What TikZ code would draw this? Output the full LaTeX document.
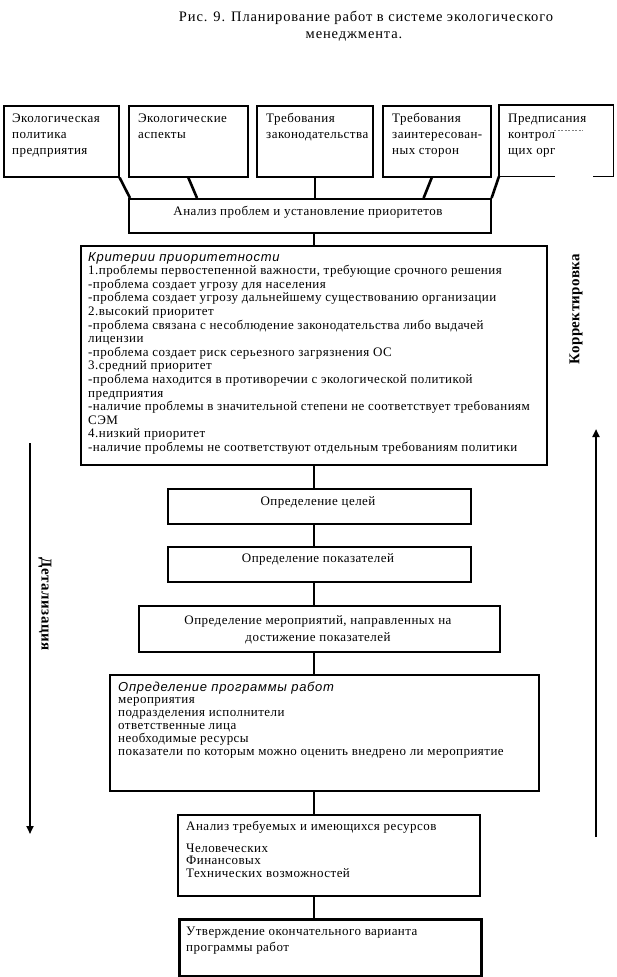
\documentclass[tikz,border=0pt]{standalone}
\usepackage{fontspec}
\setmainfont[LetterSpace=3.5]{Liberation Serif}
\newfontfamily\titlefont[LetterSpace=6]{Liberation Serif}
\newfontfamily\labelfont[LetterSpace=3]{Liberation Serif}
\newfontfamily\itsans[LetterSpace=5.5]{Liberation Sans}
\newcommand\hdfont{\itsans\itshape}
\usetikzlibrary{arrows.meta,calc}
\begin{document}
\begin{tikzpicture}[x=1pt,y=-1pt,
  box/.style={draw, line width=1.6pt, anchor=north west, inner sep=0pt},
  nobox/.style={anchor=north west, inner sep=0pt},
  txt/.style={anchor=base west, inner sep=0pt, align=left, font=\fontsize{13}{16}\selectfont},
  ctxt/.style={anchor=base, inner sep=0pt, align=center, font=\fontsize{13}{17}\selectfont},
  link/.style={line width=2.6pt},
  bigarrow/.style={line width=2.6pt, -{Triangle[length=8pt,width=7pt]}},
  vlabel/.style={inner sep=0pt, font=\fontsize{15}{17}\selectfont\labelfont\bfseries},
  ttl/.style={anchor=base, inner sep=0pt, font=\fontsize{14.5}{16}\selectfont\titlefont},
]
\useasboundingbox[fill=white] (0,0) rectangle (616,977);

% title
\node[ttl] (t1) at (366,21) {Рис. 9. Планирование работ в системе экологического};
\node[ttl] (t2) at (354,38) {менеджмента.};

% column coordinate
\coordinate (col) at (314,0);

% top boxes
\node[box, minimum width=115pt, minimum height=71pt] (b1) at (3,105) {};
\node[box, minimum width=119pt, minimum height=71pt] (b2) at (128,105) {};
\node[box, minimum width=116pt, minimum height=71pt] (b3) at (256,105) {};
\node[box, minimum width=108pt, minimum height=71pt] (b4) at (382,105) {};
\node[nobox, minimum width=114pt, minimum height=71pt] (b5) at (499,105) {};
\draw[line width=1.6pt] ($(b5.south west)+(56,0)$) -- (b5.south west) -- (b5.north west) -- (b5.north east) -- (b5.south east) -- ++(-20,0);

\node[txt] (tx1) at (12,154) {Экологическая\\политика\\предприятия};
\node[txt] (tx2) at (138,138) {Экологические\\аспекты};
\node[txt] (tx3) at (266,138) {Требования\\законодательства};
\node[txt] (tx4) at (392,154) {Требования\\заинтересован-\\ных сторон};
\node[txt] (tx5) at (508,154) {Предписания\\контрол\\щих орг};
\draw[gray, line width=0.6pt, dash pattern=on 2pt off 1.5pt] ($(b5.north west)+(55,25)$) -- ++(29,0);

% analysis box
\node[box, minimum width=362pt, minimum height=34pt] (an) at (128,198) {};
\node[ctxt] (antx) at (308,215) {Анализ проблем и установление приоритетов};

\draw[link] (b1.south east) -- ($(an.north west)+(2,0)$);
\draw[link] (b2.south) -- ($(an.north west)+(69,0)$);
\draw[link] (b3.south) -- (b3.south |- an.north);
\draw[link] ($(b4.south)+(-5,0)$) -- ($(an.north east)+(-68,0)$);
\draw[link] (b5.south west) -- (an.north east);

% criteria box
\node[box, minimum width=466pt, minimum height=219pt] (cr) at (80,245) {};
\node[txt, font=\fontsize{13}{13.6}\selectfont] (crtx) at (88,451.4) {{\hdfont Критерии приоритетности}\\
1.проблемы первостепенной важности, требующие срочного решения\\
-проблема создает угрозу для населения\\
-проблема создает угрозу дальнейшему существованию организации\\
2.высокий приоритет\\
-проблема связана с несоблюдение законодательства либо выдачей\\
лицензии\\
-проблема создает риск серьезного загрязнения ОС\\
3.средний приоритет\\
-проблема находится в противоречии с экологической политикой\\
предприятия\\
-наличие проблемы в значительной степени не соответствует требованиям\\
СЭМ\\
4.низкий приоритет\\
-наличие проблемы не соответствуют отдельным требованиям политики};

\draw[link] (an.south -| col) -- (cr.north -| col);

% goals
\node[box, minimum width=303pt, minimum height=35pt] (g1) at (167,488) {};
\node[ctxt] (g1tx) at (318,505) {Определение целей};
\node[box, minimum width=303pt, minimum height=35pt] (g2) at (167,546) {};
\node[ctxt] (g2tx) at (318,562) {Определение показателей};
\node[box, minimum width=361pt, minimum height=46pt] (g3) at (138,605) {};
\node[ctxt] (g3tx) at (318,641) {Определение мероприятий, направленных на\\достижение показателей};

\draw[link] (cr.south -| col) -- (g1.north -| col);
\draw[link] (g1.south -| col) -- (g2.north -| col);
\draw[link] (g2.south -| col) -- (g3.north -| col);

% program
\node[box, minimum width=429pt, minimum height=116pt] (pr) at (109,674) {};
\node[txt, font=\fontsize{13}{12.8}\selectfont] (prtx) at (118,755) {{\hdfont Определение программы работ}\\
мероприятия\\
подразделения исполнители\\
ответственные лица\\
необходимые ресурсы\\
показатели по которым можно оценить внедрено ли мероприятие};
\draw[link] (g3.south -| col) -- (pr.north -| col);

% resources
\node[box, minimum width=302pt, minimum height=81pt] (rs) at (177,814) {};
\node[txt] (rstx1) at (186,830) {Анализ требуемых и имеющихся ресурсов};
\node[txt, font=\fontsize{13}{12.5}\selectfont] (rstx2) at (186,877) {Человеческих\\Финансовых\\Технических возможностей};
\draw[link] (pr.south -| col) -- (rs.north -| col);

% final
\node[box, line width=2.5pt, minimum width=302pt, minimum height=57pt] (fn) at (178,918) {};
\node[txt] (fntx) at (186,951) {Утверждение окончательного варианта\\программы работ};
\draw[link] (rs.south -| col) -- (fn.north -| col);

% side arrows
\coordinate (dTop) at (30,443);
\coordinate (dBot) at (30,834);
\draw[bigarrow] (dTop) -- (dBot);
\node[vlabel, rotate=-90] (det) at (45,604) {Детализация};

\coordinate (kBot) at (596,837);
\coordinate (kTop) at (596,429);
\draw[bigarrow] (kBot) -- (kTop);
\node[vlabel, rotate=90] (kor) at (576,309) {Корректировка};
\end{tikzpicture}
\end{document}
